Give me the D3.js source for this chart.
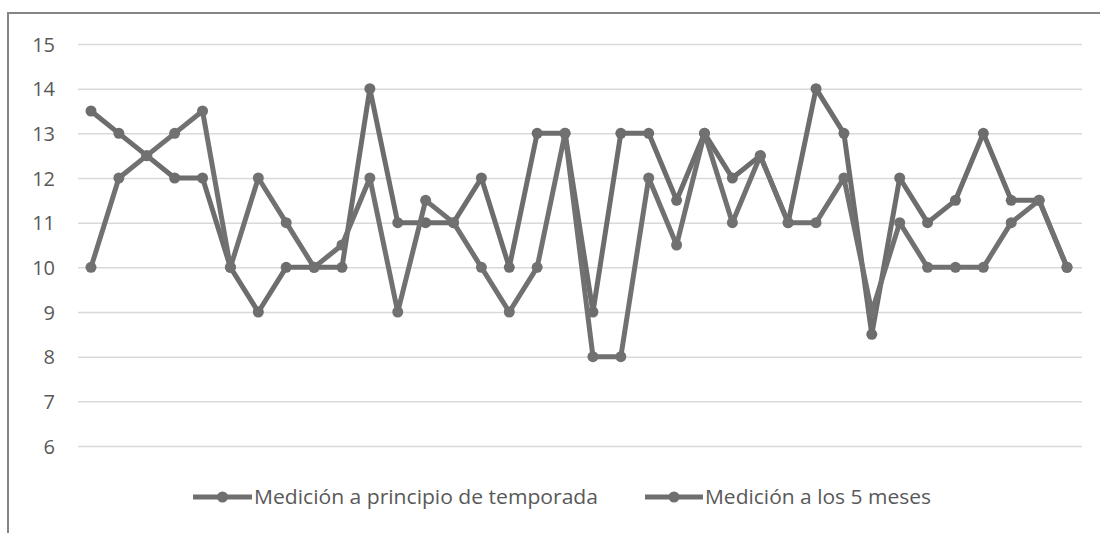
<!DOCTYPE html>
<html>
<head>
<meta charset="utf-8">
<script src="https://cdn.jsdelivr.net/npm/d3@7"></script>
<style>
  html, body { margin: 0; padding: 0; background: #fff; }
  svg { display: block; }
</style>
</head>
<body>
<svg id="chart" width="1100" height="533"></svg>
<script>
// ---- data ----
const categories = d3.range(1, 37);
const seriesNames = ["Medición a principio de temporada", "Medición a los 5 meses"];
const serieInicio = [13.5, 13, 12.5, 12, 12, 10, 9, 10, 10, 10, 14, 11, 11, 11, 12, 10, 13, 13, 9, 13, 13, 11.5, 13, 12, 12.5, 11, 14, 13, 8.5, 12, 11, 11.5, 13, 11.5, 11.5, 10];
const serie5Meses = [10, 12, 12.5, 13, 13.5, 10, 12, 11, 10, 10.5, 12, 9, 11.5, 11, 10, 9, 10, 13, 8, 8, 12, 10.5, 13, 11, 12.5, 11, 11, 12, 9, 11, 10, 10, 10, 11, 11.5, 10];
const yTicks = [6, 7, 8, 9, 10, 11, 12, 13, 14, 15];

const svg = d3.select("#chart");

// frame
svg.append("rect")
  .attr("x", 8).attr("y", 13)
  .attr("width", 1100).attr("height", 540)
  .attr("fill", "none").attr("stroke", "#858585").attr("stroke-width", 2);

const x = d3.scalePoint().domain(categories).range([91, 1067]);
const y = d3.scaleLinear().domain([6, 15]).range([446, 44]);

// gridlines + tick labels via axis
const yAxis = d3.axisLeft(y).tickValues(yTicks).tickSize(-(1082 - 78)).tickPadding(23).tickFormat(d3.format("d"));
const gy = svg.append("g").attr("transform", "translate(78,0)").call(yAxis);
gy.attr("font-size", null).attr("font-family", null);
gy.select(".domain").remove();
gy.selectAll(".tick line").attr("stroke", "#d9d9d9").attr("stroke-width", 1.5);
gy.selectAll(".tick text")
  .attr("fill", "#595959")
  .attr("dy", "0.36em")
  .attr("font-family", "'Open Sans', 'Noto Sans', sans-serif")
  .attr("font-size", 20);

const line = d3.line().x((d, i) => x(categories[i])).y(d => y(d));
const color = "#6f6f6f";
const allSeries = [serieInicio, serie5Meses];

allSeries.forEach((s, k) => {
  const g = svg.append("g");
  g.append("path")
    .datum(s)
    .attr("d", line)
    .attr("fill", "none")
    .attr("stroke", k === 0 ? "#6d6d6d" : "#717171")
    .attr("stroke-width", 5)
    .attr("stroke-linejoin", "round");
  g.selectAll("circle")
    .data(s)
    .join("circle")
    .attr("cx", (d, i) => x(categories[i]))
    .attr("cy", d => y(d))
    .attr("r", 5.5)
    .attr("fill", k === 0 ? "#6d6d6d" : "#717171");
});

// legend
const legendItems = [
  { name: seriesNames[0], x0: 193, x1: 252, tx: 254, tw: 344 },
  { name: seriesNames[1], x0: 645, x1: 703, tx: 705, tw: 226 }
];
const lg = svg.append("g");
legendItems.forEach(it => {
  lg.append("line")
    .attr("x1", it.x0).attr("x2", it.x1)
    .attr("y1", 497).attr("y2", 497)
    .attr("stroke", color).attr("stroke-width", 5);
  lg.append("circle")
    .attr("cx", (it.x0 + it.x1) / 2).attr("cy", 497).attr("r", 5.5)
    .attr("fill", color);
  lg.append("text")
    .attr("x", it.tx).attr("y", 504)
    .attr("fill", "#595959")
    .style("font-family", "'Open Sans', 'Noto Sans', sans-serif")
    .style("font-size", "20px")
    .attr("textLength", it.tw)
    .attr("lengthAdjust", "spacingAndGlyphs")
    .text(it.name);
});
</script>
</body>
</html>
